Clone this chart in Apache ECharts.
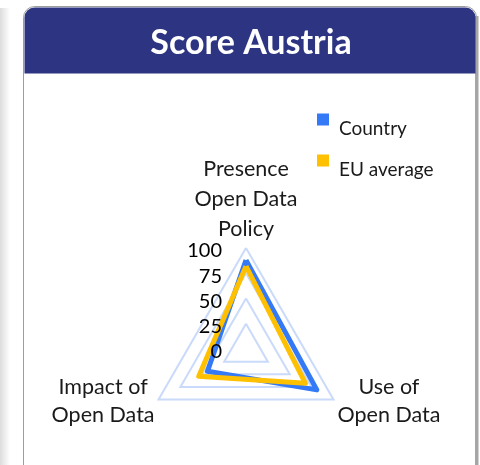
<!DOCTYPE html>
<html>
<head>
<meta charset="utf-8">
<script src="https://cdn.jsdelivr.net/npm/echarts@6/dist/echarts.min.js"></script>
<style>
  html, body { margin: 0; padding: 0; background: #fff; }
  #chart { width: 480px; height: 465px; }
</style>
</head>
<body>
<div id="chart"></div>
<script>
// chart data
const chartTitle = 'Score Austria';
const indicatorNames = ['Presence\nOpen Data\nPolicy', 'Impact of\nOpen Data', 'Use of\nOpen Data'];
const seriesNames = ['Country', 'EU average'];
const countryScores = [88, 44, 81];
const euScores = [82, 54, 68];
const scaleTicks = [0, 25, 50, 75, 100];

const blue = '#3479f5';
const yellow = '#ffc000';
const font = 'Lato';
const radarCenter = [246, 349];
const radarRadius = 101;

const chart = echarts.init(document.getElementById('chart'));

// each line of an axis name is centred inside its own block
function nameRich(name, i) {
    const style = i === 0 ? 'top' : 'side';
    return name.split('\n').map(function (line) {
        return '{' + style + '|' + line + '}';
    }).join('\n');
}

function makeIndicators(withLabel) {
    return indicatorNames.map(function (name, i) {
        const ind = { name: name, min: scaleTicks[0], max: scaleTicks[scaleTicks.length - 1] };
        if (withLabel && i === 0) {
            ind.axisLabel = { show: true };
        }
        return ind;
    });
}

const option = {
    animation: false,
    backgroundColor: '#fff',
    graphic: [
        // shadow of the neighbouring card
        {
            type: 'rect', shape: { x: 0, y: 8, width: 10, height: 460 },
            style: {
                fill: new echarts.graphic.LinearGradient(0, 0, 1, 0, [
                    { offset: 0, color: '#dcdcdc' }, { offset: 1, color: '#ffffff' }
                ])
            }, silent: true, z: -10
        },
        // card body
        {
            type: 'rect', shape: { x: 23.5, y: 6.5, width: 453, height: 480, r: [11, 11, 0, 0] },
            style: { fill: '#fff', stroke: '#9d9d9d', lineWidth: 1 }, silent: true, z: -9
        },
        // right shadow border
        {
            type: 'rect', shape: { x: 475, y: 16, width: 3.5, height: 460 },
            style: { fill: '#a6a6a6' }, silent: true, z: -8
        },
        // header
        {
            type: 'rect', shape: { x: 24.5, y: 7.5, width: 451, height: 66, r: [10, 10, 0, 0] },
            style: { fill: '#2d3582' }, silent: true, z: -7
        }
    ],
    title: {
        text: chartTitle,
        left: 251,
        top: 26,
        textAlign: 'center',
        padding: 0,
        textStyle: { color: '#fff', fontFamily: font, fontWeight: 'bold', fontSize: 34 }
    },
    legend: {
        data: seriesNames,
        orient: 'vertical',
        left: 317,
        top: 101,
        padding: 0,
        icon: 'rect',
        itemWidth: 12,
        itemHeight: 12,
        itemGap: 4,
        formatter: function (name) {
            return '{t|' + name + '}';
        },
        textStyle: {
            color: '#1a1a1a', fontFamily: font, fontSize: 19,
            rich: { t: { color: '#1a1a1a', fontFamily: font, fontSize: 19, lineHeight: 20, padding: [18, 0, 0, 5] } }
        }
    },
    radar: [
        {
            // grid rings and axis names
            center: radarCenter,
            radius: radarRadius,
            startAngle: 90,
            shape: 'polygon',
            splitNumber: scaleTicks.length - 1,
            nameGap: 4,
            indicator: makeIndicators(false),
            axisName: {
                color: '#1a1a1a', fontFamily: font, fontSize: 21.5,
                formatter: function (value) {
                    return nameRich(value, indicatorNames.indexOf(value));
                },
                rich: {
                    top: { color: '#1a1a1a', fontFamily: font, fontSize: 21.5, lineHeight: 30, width: 100, align: 'center' },
                    side: { color: '#1a1a1a', fontFamily: font, fontSize: 21.5, lineHeight: 28, width: 104, align: 'center' }
                }
            },
            axisLine: { show: false },
            axisTick: { show: false },
            axisLabel: { show: false },
            splitLine: { lineStyle: { color: '#c9dafa', width: 2 } },
            splitArea: { show: false }
        },
        {
            // tick labels drawn above the series lines
            z: 5,
            center: radarCenter,
            radius: radarRadius,
            startAngle: 90,
            shape: 'polygon',
            splitNumber: scaleTicks.length - 1,
            indicator: makeIndicators(true),
            axisName: { show: false },
            axisLine: { show: false },
            axisTick: { show: false },
            splitLine: { show: false },
            splitArea: { show: false },
            axisLabel: {
                show: false, color: '#000', fontFamily: font, fontSize: 20, margin: 24,
                formatter: function (value) {
                    return '{v|' + value + '}';
                },
                rich: { v: { color: '#000', fontFamily: font, fontSize: 20, padding: [6, 0, 0, 0] } }
            }
        }
    ],
    series: [
        {
            type: 'radar',
            radarIndex: 0,
            symbol: 'none',
            data: [
                {
                    name: seriesNames[0],
                    value: countryScores,
                    lineStyle: { color: blue, width: 5, join: 'round' },
                    itemStyle: { color: blue }
                },
                {
                    name: seriesNames[1],
                    value: euScores,
                    lineStyle: { color: yellow, width: 5, join: 'round' },
                    itemStyle: { color: yellow }
                }
            ]
        }
    ]
};

chart.setOption(option);
</script>
</body>
</html>
